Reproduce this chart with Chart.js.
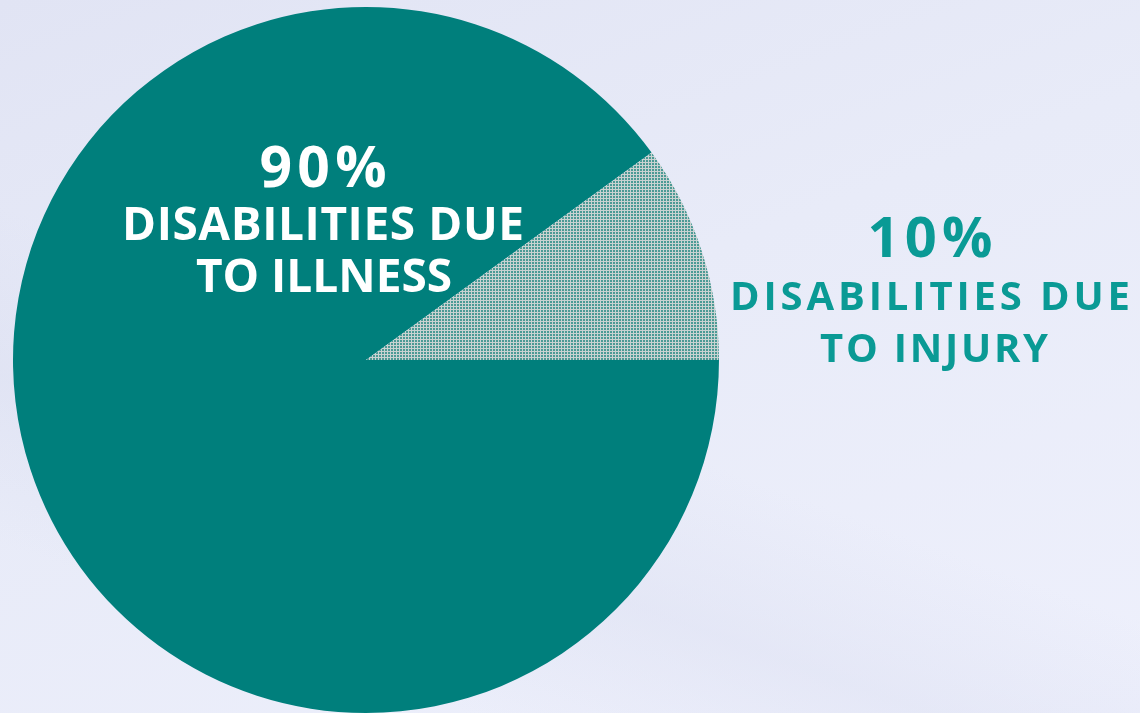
<!DOCTYPE html>
<html>
<head>
<meta charset="utf-8">
<script src="https://cdn.jsdelivr.net/npm/chart.js@4.4.0/dist/chart.umd.min.js"></script>
<style>
  html, body { margin: 0; padding: 0; width: 1140px; height: 713px; overflow: hidden; }
  body {
    background:
      linear-gradient(200deg, rgba(255,255,255,0.0) 55%, rgba(214,218,238,0.35) 70%, rgba(255,255,255,0) 85%),
      linear-gradient(160deg, #e1e4f4 0%, #e8ebf8 45%, #eef0fc 100%);
  }
  #wrap { position: absolute; left: 0; top: 0; width: 1140px; height: 713px; }
</style>
</head>
<body>
<div id="wrap"><canvas id="c" width="1140" height="713"></canvas></div>
<script>
// ---- data ----
const categories = ["Disabilities due to illness", "Disabilities due to injury"];
const shares = [90, 10];
const percentLabels = ["90%", "10%"];
const captionLines = [["DISABILITIES DUE", "TO ILLNESS"], ["DISABILITIES DUE", "TO INJURY"]];

// dotted pattern for the small slice
function dotPattern() {
  const t = document.createElement('canvas');
  t.width = 3; t.height = 3;
  const g = t.getContext('2d');
  g.fillStyle = '#c9d2d1';
  g.fillRect(0, 0, 3, 3);
  g.fillStyle = '#4c9a95';
  g.fillRect(1, 1, 2, 2);
  return g.createPattern(t, 'repeat');
}

const TEAL = '#007f7c';
const LIGHT_TEAL = '#0a9a95';

function drawSpaced(ctx, text, cx, baseline, font, color, targetW) {
  ctx.save();
  ctx.font = font;
  ctx.letterSpacing = '0px';
  const w0 = ctx.measureText(text).width;
  const n = text.length;
  const ls = n > 1 ? Math.max(0, (targetW - w0) / (n - 1)) : 0;
  ctx.letterSpacing = ls + 'px';
  const w = w0 + ls * (n - 1);
  ctx.fillStyle = color;
  ctx.textAlign = 'left';
  ctx.textBaseline = 'alphabetic';
  ctx.fillText(text, cx - w / 2, baseline);
  ctx.restore();
}

const labelPlugin = {
  id: 'pieLabels',
  afterDraw(chart) {
    const ctx = chart.ctx;
    const F = '"Open Sans", "DejaVu Sans", sans-serif';
    // illness label (inside)
    drawSpaced(ctx, percentLabels[0], 323, 187, `700 57px ${F}`, '#ffffff', 127);
    drawSpaced(ctx, captionLines[0][0], 323, 240, `700 46px ${F}`, '#ffffff', 402);
    drawSpaced(ctx, captionLines[0][1], 324, 292, `700 46px ${F}`, '#ffffff', 249);
    // injury label (outside, right)
    drawSpaced(ctx, percentLabels[1], 930, 257, `700 56px ${F}`, LIGHT_TEAL, 125);
    drawSpaced(ctx, captionLines[1][0], 930, 310, `700 40px ${F}`, LIGHT_TEAL, 400);
    drawSpaced(ctx, captionLines[1][1], 934, 362, `700 40px ${F}`, LIGHT_TEAL, 228);
  }
};

new Chart(document.getElementById('c'), {
  type: 'pie',
  data: {
    labels: categories,
    datasets: [{
      data: shares,
      backgroundColor: [TEAL, dotPattern()],
      borderWidth: 0,
      hoverOffset: 0
    }]
  },
  options: {
    responsive: false,
    animation: false,
    rotation: 90,
    layout: { padding: { left: 12, right: 420, top: 7, bottom: 0 } },
    plugins: {
      legend: { display: false },
      tooltip: { enabled: false },
      title: { display: false }
    },
    events: []
  },
  plugins: [labelPlugin]
});
</script>
</body>
</html>
